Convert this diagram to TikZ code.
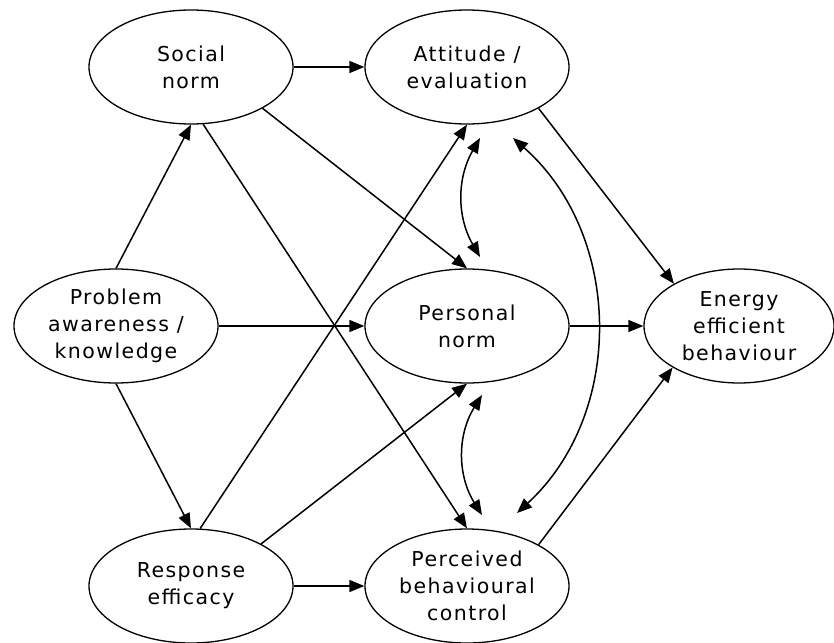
\documentclass[tikz,border=0pt]{standalone}
\usepackage{fontspec}
\setmainfont{DejaVu Sans}[LetterSpace=7]
\usetikzlibrary{shapes.geometric,arrows.meta}
\begin{document}
\begin{tikzpicture}[x=1pt,y=-1pt,
  var/.style={ellipse, draw, line width=1.3pt, minimum width=204pt, minimum height=114pt,
    inner sep=0pt, align=center, font=\fontsize{20.5}{27}\selectfont},
  arr/.style={line width=1.5pt, -{Triangle[length=15pt,width=12pt]}},
  darr/.style={line width=1.5pt, {Triangle[length=15pt,width=12pt]}-{Triangle[length=15pt,width=12pt]}}]
\useasboundingbox (0,0) rectangle (834,642);
\fill[white] (0,0) rectangle (834,642);

\node[var] (soc) at (191,67) {Social\\norm};
\node[var] (att) at (467,67) {Attitude /\\evaluation};
\node[var] (prob) at (116,326) {Problem\\awareness /\\knowledge};
\node[var] (pers) at (467,326) {Personal\\norm};
\node[var, minimum width=190pt] (ene) at (739,326) {Energy\\efficient\\behaviour};
\node[var] (resp) at (191,586) {Response\\efficacy};
\node[var] (pbc) at (467,586) {Perceived\\behavioural\\control};

\draw[arr] (soc.east) -- (att.west);
\draw[arr] (prob.north) -- (soc.south);
\draw[arr] (prob.south) -- (resp.north);
\draw[arr] (prob.east) -- (pers.west);
\draw[arr] (soc.282) -- (pbc.north);
\draw[arr] (soc.330) -- (pers.north);
\draw[arr] (resp.81) -- (att.south);
\draw[arr] (resp.31) -- (pers.south);
\draw[arr] (resp.east) -- (pbc.west);
\draw[arr] (att.330) -- (ene.147);
\draw[arr] (pers.east) -- (ene.west);
\draw[arr] (pbc.30) -- (ene.212);

\coordinate (u1) at (480,138);
\coordinate (u2) at (480,257);
\draw[darr] (u1) to[bend right=30] (u2);
\coordinate (l1) at (482,395);
\coordinate (l2) at (482,515);
\draw[darr] (l1) to[bend right=32] (l2);
\coordinate (b1) at (513,138);
\coordinate (b2) at (517,513);
\draw[darr] (b1) to[bend left=48] (b2);
\end{tikzpicture}
\end{document}
